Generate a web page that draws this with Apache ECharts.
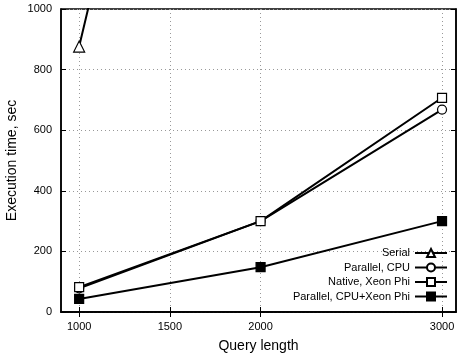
<!DOCTYPE html>
<html>
<head>
<meta charset="utf-8">
<script src="https://cdn.jsdelivr.net/npm/echarts@6/dist/echarts.min.js"></script>
<style>
  html, body { margin: 0; padding: 0; background: #fff; }
  #chart { width: 457px; height: 357px; }
</style>
</head>
<body>
<div id="chart"></div>
<script>
// query lengths on the x axis
const queryLengths = [1000, 2000, 3000];
const xTicks = [1000, 1500, 2000, 3000];

// execution time, sec
const serial = [876, 3400, 7000];
const parallelCpu = [78, 300, 668];
const nativeXeonPhi = [82, 300, 707];
const parallelCpuXeonPhi = [43, 148, 300];

const FONT = 'Liberation Sans, Arial, sans-serif';

function pairs(vals) {
  return queryLengths.map((q, i) => [q, vals[i]]);
}

function makeSeries(name, vals, symbol, filled) {
  return {
    name: name,
    type: 'line',
    data: pairs(vals),
    symbol: symbol,
    symbolSize: symbol === 'triangle' ? 11 : 9,
    showAllSymbol: true,
    clip: true,
    lineStyle: { color: '#000', width: 2 },
    itemStyle: { color: filled ? '#000' : '#fff', borderColor: '#000', borderWidth: 1.2 },
    emphasis: { disabled: true },
    z: 3
  };
}

const chart = echarts.init(document.getElementById('chart'));

const tickStyle = { show: true, inside: true, length: 5, lineStyle: { color: '#000', width: 1 } };
const dotted = { show: true, lineStyle: { color: '#999', type: [1, 3], width: 1 } };
const plain = v => String(v);

chart.setOption({
  animation: false,
  backgroundColor: '#fff',
  grid: {
    left: 61, right: 1, top: 9, bottom: 45,
    outerBoundsMode: 'none',
    containLabel: false,
    show: true, borderColor: '#000', borderWidth: 1.5
  },
  legend: {
    orient: 'vertical',
    align: 'right',
    right: 4,
    bottom: 50,
    itemWidth: 32,
    itemHeight: 10,
    itemGap: 3.5,
    textStyle: { fontFamily: FONT, fontSize: 11, color: '#000' },
    data: ['Serial', 'Parallel, CPU', 'Native, Xeon Phi', 'Parallel, CPU+Xeon Phi']
  },
  xAxis: [{
    type: 'value',
    min: 900,
    max: 3077,
    name: 'Query length',
    nameLocation: 'middle',
    nameGap: 27,
    nameMoveOverlap: false,
    nameTextStyle: { fontFamily: FONT, fontSize: 14, color: '#000' },
    axisLine: { show: true, lineStyle: { color: '#000', width: 1.5 } },
    axisTick: Object.assign({ customValues: xTicks }, tickStyle),
    axisLabel: { customValues: xTicks, formatter: plain, fontFamily: FONT, fontSize: 11, color: '#000', margin: 9 },
    splitLine: dotted
  }, {
    type: 'value',
    position: 'top',
    min: 900,
    max: 3077,
    axisLine: { show: true, lineStyle: { color: '#000', width: 1.5 } },
    axisTick: Object.assign({ customValues: xTicks }, tickStyle),
    axisLabel: { show: false },
    splitLine: { show: false }
  }],
  yAxis: [{
    type: 'value',
    min: 0,
    max: 1000,
    interval: 200,
    name: 'Execution time, sec',
    nameLocation: 'middle',
    nameGap: 42,
    nameMoveOverlap: false,
    nameTextStyle: { fontFamily: FONT, fontSize: 14, color: '#000' },
    axisLine: { show: true, lineStyle: { color: '#000', width: 1.5 } },
    axisTick: tickStyle,
    axisLabel: { formatter: plain, fontFamily: FONT, fontSize: 11, color: '#000', margin: 9 },
    splitLine: dotted
  }, {
    type: 'value',
    position: 'right',
    min: 0,
    max: 1000,
    interval: 200,
    axisLine: { show: true, lineStyle: { color: '#000', width: 1.5 } },
    axisTick: tickStyle,
    axisLabel: { show: false },
    splitLine: { show: false }
  }],
  series: [
    makeSeries('Serial', serial, 'triangle', false),
    makeSeries('Parallel, CPU', parallelCpu, 'circle', false),
    makeSeries('Native, Xeon Phi', nativeXeonPhi, 'rect', false),
    makeSeries('Parallel, CPU+Xeon Phi', parallelCpuXeonPhi, 'rect', true)
  ]
});
</script>
</body>
</html>
